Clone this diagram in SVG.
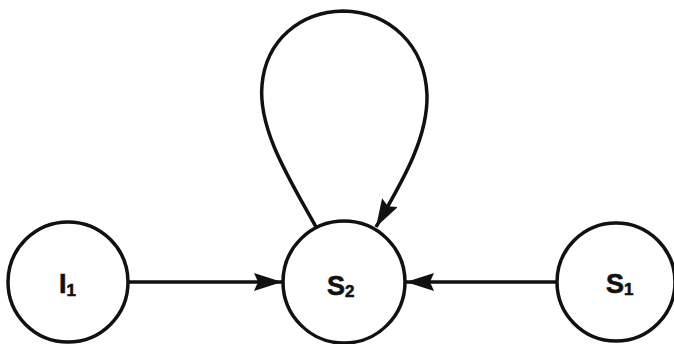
<svg xmlns="http://www.w3.org/2000/svg" width="674" height="344" viewBox="0 0 674 344">
<style>
.node{fill:#fff;stroke:#111;stroke-width:3.5}
.edge{fill:none;stroke:#111;stroke-width:3.5}
.lbl{font-family:"Liberation Sans",Arial,sans-serif;font-weight:bold;font-size:27px;fill:#111;stroke:#111;stroke-width:0.6}
.sub{font-size:17px}
</style>
<defs>
<marker id="arr" viewBox="0 0 28 18" refX="28" refY="9" markerWidth="28" markerHeight="18" markerUnits="userSpaceOnUse" orient="auto">
<path d="M0,0 L28,9 L0,18 L4,9 z" fill="#111"/>
</marker>
</defs>
<rect width="674" height="344" fill="#fff"/>
<g id="connectors">
<line class="edge" x1="129" y1="282" x2="282" y2="282" marker-end="url(#arr)"/>
<line class="edge" x1="556" y1="282" x2="406" y2="282" marker-end="url(#arr)"/>
<path class="edge" d="M316,227 C290,180 258,130 262,85 C266,40 300,12 343,11 C390,12 425,45 427,95 C428,140 400,185 376,227" marker-end="url(#arr)"/>
</g>
<g id="I1">
<circle class="node" cx="68" cy="282" r="60"/>
<text class="lbl" x="59" y="293">I<tspan class="sub" dy="3">1</tspan></text>
</g>
<g id="S2">
<circle class="node" cx="344" cy="282" r="61"/>
<text class="lbl" x="327" y="295">S<tspan class="sub" dy="2">2</tspan></text>
</g>
<g id="S1">
<circle class="node" cx="616" cy="282" r="59"/>
<text class="lbl" x="606" y="293">S<tspan class="sub" dy="2">1</tspan></text>
</g>
</svg>
